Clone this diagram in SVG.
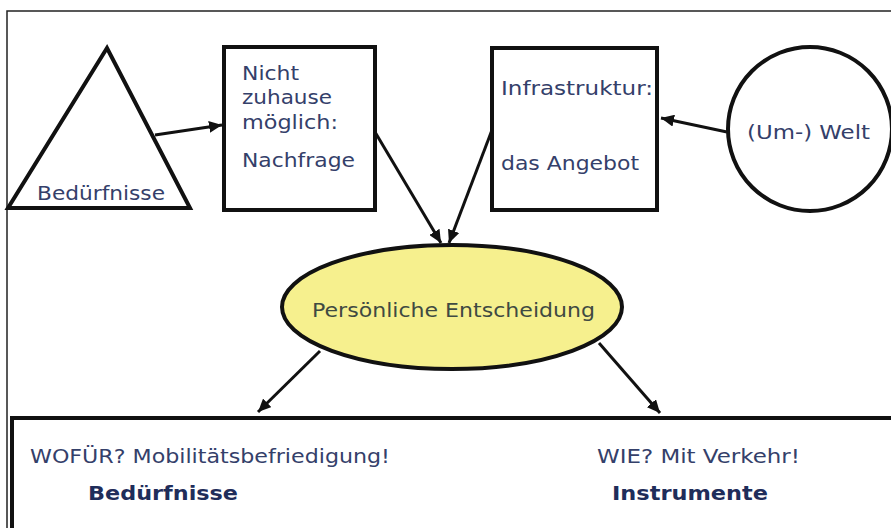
<svg xmlns="http://www.w3.org/2000/svg" width="891" height="528" viewBox="0 0 891 528">
<defs>
<style>
.shape{fill:#fff;stroke:#111;stroke-width:4}
.t{font-family:"DejaVu Sans","Liberation Sans",sans-serif;font-size:20px;fill:#34406a}
.b{font-family:"DejaVu Sans","Liberation Sans",sans-serif;font-size:20px;font-weight:bold;fill:#1f2d5a}
.e{font-family:"DejaVu Sans","Liberation Sans",sans-serif;font-size:20px;fill:#3f4a42}
.c{stroke:#111;stroke-width:3;fill:none;marker-end:url(#ah)}
</style>
<marker id="ah" markerUnits="userSpaceOnUse" markerWidth="14" markerHeight="12" refX="13" refY="6" orient="auto">
<path d="M0,0 L13,6 L0,12 z" fill="#111"/>
</marker>
</defs>
<rect width="891" height="528" fill="#fff"/>
<path d="M7,528 V11 H891" fill="none" stroke="#222" stroke-width="1.5"/>
<g id="beduerfnisse">
<polygon class="shape" points="107,48 8,208 190,208"/>
<text class="t" x="37" y="200" textLength="128" lengthAdjust="spacingAndGlyphs">Bedürfnisse</text>
</g>
<g id="nachfrage">
<rect class="shape" x="224" y="47" width="151" height="163"/>
<text class="t" x="242" y="80" textLength="57" lengthAdjust="spacingAndGlyphs">Nicht</text>
<text class="t" x="242" y="104" textLength="90" lengthAdjust="spacingAndGlyphs">zuhause</text>
<text class="t" x="242" y="129" textLength="96" lengthAdjust="spacingAndGlyphs">möglich:</text>
<text class="t" x="242" y="167" textLength="113" lengthAdjust="spacingAndGlyphs">Nachfrage</text>
</g>
<g id="angebot">
<rect class="shape" x="492" y="48" width="165" height="162"/>
<text class="t" x="501" y="95" textLength="152" lengthAdjust="spacingAndGlyphs">Infrastruktur:</text>
<text class="t" x="501" y="170" textLength="138" lengthAdjust="spacingAndGlyphs">das Angebot</text>
</g>
<g id="welt">
<circle class="shape" cx="810" cy="129" r="82"/>
<text class="t" x="747" y="139" textLength="123" lengthAdjust="spacingAndGlyphs">(Um-) Welt</text>
</g>
<g id="entscheidung">
<ellipse cx="452" cy="307" rx="170" ry="62" fill="#f6f08e" stroke="#111" stroke-width="4"/>
<text class="e" x="312" y="317" textLength="283" lengthAdjust="spacingAndGlyphs">Persönliche Entscheidung</text>
</g>
<g id="ergebnis">
<rect x="12" y="418" width="900" height="130" fill="#fff" stroke="#111" stroke-width="4"/>
<text class="t" x="30" y="463" textLength="360" lengthAdjust="spacingAndGlyphs">WOFÜR? Mobilitätsbefriedigung!</text>
<text class="b" x="88" y="500" textLength="150" lengthAdjust="spacingAndGlyphs">Bedürfnisse</text>
<text class="t" x="597" y="463" textLength="203" lengthAdjust="spacingAndGlyphs">WIE? Mit Verkehr!</text>
<text class="b" x="612" y="500" textLength="156" lengthAdjust="spacingAndGlyphs">Instrumente</text>
</g>
<g id="connectors">
<line class="c" x1="155" y1="135" x2="222" y2="125"/>
<line class="c" x1="375" y1="132" x2="441" y2="243"/>
<line class="c" x1="492" y1="130" x2="449" y2="243"/>
<line class="c" x1="727" y1="132" x2="661" y2="118"/>
<line class="c" x1="320" y1="351" x2="258" y2="412"/>
<line class="c" x1="599" y1="343" x2="660" y2="413"/>
</g>
</svg>
